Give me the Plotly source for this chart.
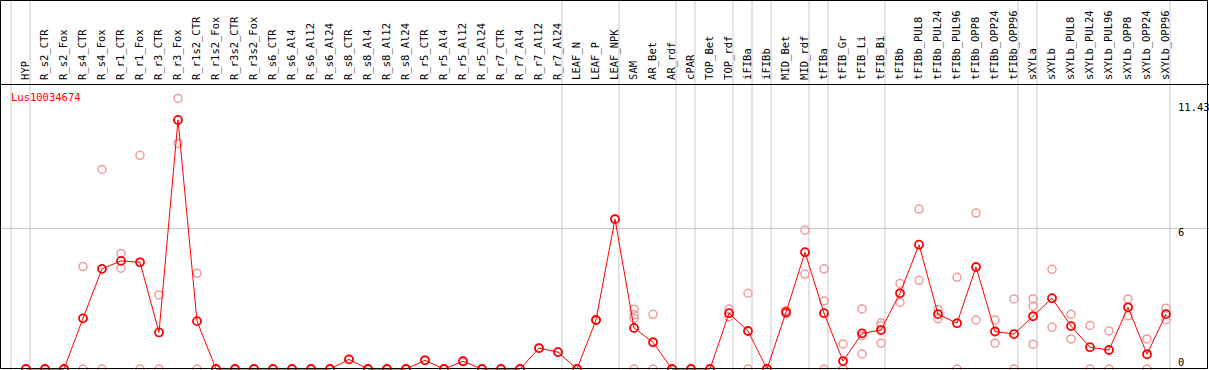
import plotly.graph_objects as go

categories = ["HYP", "R_s2_CTR", "R_s2_Fox", "R_s4_CTR", "R_s4_Fox", "R_r1_CTR", "R_r1_Fox",
              "R_r3_CTR", "R_r3_Fox", "R_r1s2_CTR", "R_r1s2_Fox", "R_r3s2_CTR", "R_r3s2_Fox",
              "R_s6_CTR", "R_s6_Al4", "R_s6_Al12", "R_s6_Al24", "R_s8_CTR", "R_s8_Al4",
              "R_s8_Al12", "R_s8_Al24", "R_r5_CTR", "R_r5_Al4", "R_r5_Al12", "R_r5_Al24",
              "R_r7_CTR", "R_r7_Al4", "R_r7_Al12", "R_r7_Al24", "LEAF_N", "LEAF_P", "LEAF_NPK",
              "SAM", "AR_Bet", "AR_rdf", "cPAR", "TOP_Bet", "TOP_rdf", "iFIBa", "iFIBb",
              "MID_Bet", "MID_rdf", "tFIBa", "tFIB_Gr", "tFIB_Li", "tFIB_Bi", "tFIBb",
              "tFIBb_PUL8", "tFIBb_PUL24", "tFIBb_PUL96", "tFIBb_OPP8", "tFIBb_OPP24",
              "tFIBb_OPP96", "sXYLa", "sXYLb", "sXYLb_PUL8", "sXYLb_PUL24", "sXYLb_PUL96",
              "sXYLb_OPP8", "sXYLb_OPP24", "sXYLb_OPP96"]

mean_values = [0, 0, 0, 2.16, 4.27, 4.61, 4.55, 1.56, 10.62, 2.04, 0, 0, 0,
               0, 0, 0, 0, 0.41, 0, 0, 0, 0.37, 0, 0.33, 0,
               0, 0, 0.89, 0.72, 0, 2.09, 6.39,
               1.75, 1.14, 0, 0, 0, 2.38, 1.62, 0,
               2.42, 4.98, 2.38, 0.34, 1.52, 1.66, 3.23,
               5.30, 2.34, 1.95, 4.35, 1.60, 1.49,
               2.25, 3.02, 1.83, 0.93, 0.81, 2.63, 0.63, 2.34]

rep_a = [0, 0, 0, 4.37, 8.51, 4.93, 9.11, 3.16, 11.54, 4.08, 0, 0, 0,
         0, 0, 0, 0, 0.41, 0, 0, 0, 0.37, 0, 0.33, 0,
         0, 0, 0.89, 0.72, 0, 2.09, 6.39,
         2.55, 2.33, 0, 0, 0, 2.55, 3.23, 0,
         2.50, 5.92, 4.27, 1.07, 2.56, 1.97, 3.65,
         6.82, 2.54, 3.91, 6.65, 2.09, 2.99,
         2.99, 4.25, 2.34, 1.86, 1.62, 2.99, 1.28, 2.59]
rep_b = [0, 0, 0, 0, 0, 4.30, 0, 0, 9.62, 0, 0, 0, 0,
         0, 0, 0, 0, 0.41, 0, 0, 0, 0.37, 0, 0.33, 0,
         0, 0, 0.89, 0.72, 0, 2.09, 6.39,
         2.31, 0, 0, 0, 0, 2.23, 0, 0,
         2.36, 4.05, 2.90, 0, 0.64, 1.86, 2.84,
         3.78, 2.14, 0, 2.09, 1.10, 0,
         2.68, 1.78, 1.28, 0, 0, 2.27, 0, 2.10]
rep_c = [None] * 32 + [2.16, None, None, None, None, None, None, None,
                       None, None, 0, 0, 1.42, 1.10, None,
                       None, None, None, None, None, None,
                       1.06, None, None, None, None, None, None, None]
rep_d = [None] * 32 + [0] + [None] * 28

gene_label = "Lus10034674"
y_tick_vals = [0, 6, 11.43]
y_tick_text = ["0", "6", "11.43"]
y_grid_vals = [6]
group_ends = ["HYP", "R_r7_Al24", "LEAF_NPK", "AR_rdf", "cPAR", "TOP_rdf", "iFIBa",
              "iFIBb", "MID_rdf", "tFIBa", "tFIB_Bi", "tFIBb_OPP96", "sXYLa", "sXYLb_OPP96"]

W, H = 1209, 370
MONO = "DejaVu Sans Mono"
FS = 10.5

fig = go.Figure()

rx, ry = [], []
for reps in (rep_a, rep_b, rep_c, rep_d):
    for c, v in zip(categories, reps):
        if v is not None:
            rx.append(c)
            ry.append(v)

fig.add_trace(go.Scatter(
    x=rx, y=ry, mode="markers",
    marker=dict(symbol="circle-open", size=8, color="#f09c9c", line=dict(width=1.5, color="#f09c9c")),
    hoverinfo="skip", showlegend=False))

fig.add_trace(go.Scatter(
    x=categories, y=mean_values, mode="lines+markers",
    line=dict(color="#ff0000", width=1),
    marker=dict(symbol="circle-open", size=8, color="#ff0000", line=dict(width=1.8, color="#ff0000")),
    showlegend=False))

# x scale: category i centred at pixel 26 + 19*i
step = 19.0
x0_pix = 26.0
x_lo = (0 - x0_pix) / step
x_hi = (W - x0_pix) / step

# y scale: value 0 at pixel 369, value 6 at 228.3, plot from pixel 85 to 370
ppu = (369 - 228.3) / 6
y_lo = (369 - 370) / ppu
y_hi = (369 - 85) / ppu
dom_top = (H - 85) / H

shapes = []
for g in ["__before__"] + group_ends:
    idx = -1 if g == "__before__" else categories.index(g)
    shapes.append(dict(type="line", xref="x", yref="paper", x0=idx + 4 / step, x1=idx + 4 / step,
                       y0=0, y1=1, line=dict(color="#c8c8c8", width=1), layer="below"))
shapes.append(dict(type="rect", xref="paper", yref="paper",
                   x0=0.5 / W, x1=1 - 1.5 / W, y0=1.5 / H, y1=1 - 0.5 / H,
                   line=dict(color="black", width=1), layer="above"))

annotations = [dict(text=gene_label, xref="paper", yref="paper", x=9 / W, y=(H - 97) / H,
                    xanchor="left", yanchor="middle", showarrow=False,
                    font=dict(family=MONO, size=FS, color="#ff0000"))]
label_shift = {0: 7, 6: -4, 11.43: -6}
for v, t in zip(y_tick_vals, y_tick_text):
    annotations.append(dict(text=t, xref="paper", yref="y", x=1176 / W, y=v,
                            yshift=label_shift.get(v, 0),
                            xanchor="left", yanchor="middle", showarrow=False,
                            font=dict(family=MONO, size=FS, color="black")))

fig.update_layout(
    width=W, height=H,
    margin=dict(l=0, r=0, t=0, b=0, pad=0, autoexpand=False),
    paper_bgcolor="white", plot_bgcolor="white",
    shapes=shapes, annotations=annotations,
    xaxis=dict(type="category", categoryorder="array", categoryarray=categories,
               range=[x_lo, x_hi], side="top", tickangle=-90,
               tickfont=dict(family=MONO, size=FS, color="black"),
               showgrid=False, zeroline=False, showline=True, linecolor="black", linewidth=1,
               ticks="", ticklabelstandoff=2, fixedrange=True),
    yaxis=dict(domain=[0, dom_top], range=[y_lo, y_hi], tickvals=y_grid_vals,
               showticklabels=False, showgrid=True, gridcolor="#c8c8c8", gridwidth=1,
               zeroline=False, showline=False, ticks="", fixedrange=True),
)

fig.write_html("out.html", config={"displayModeBar": False},
               post_script="document.body.style.margin='0';document.body.style.overflow='hidden';")
